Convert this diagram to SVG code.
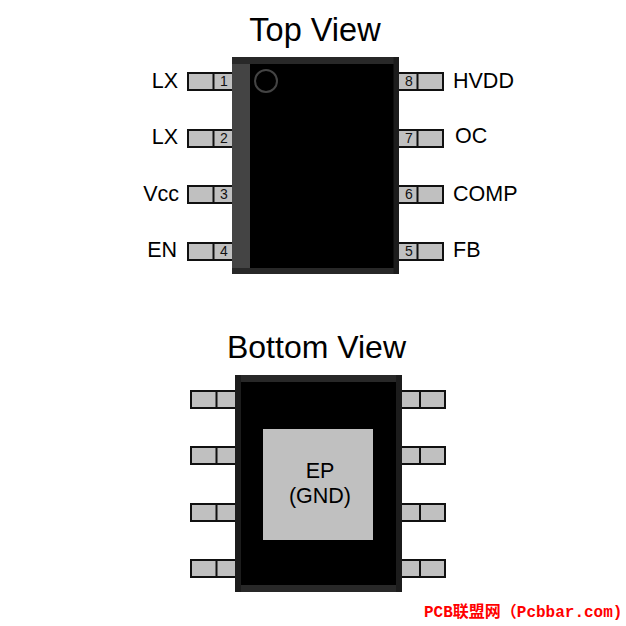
<svg xmlns="http://www.w3.org/2000/svg" width="626" height="626" viewBox="0 0 626 626">
<style>
.pin{fill:#c0c0c0;stroke:#111;stroke-width:2}
.band{fill:#282828}
.side{fill:#1c1c1c}
.t{font-family:"Liberation Sans",Arial,sans-serif;fill:#000}
.title{font-size:32.500px;text-anchor:middle}
.lbl{font-size:21.500px}
.end{text-anchor:end}
.n{font-family:"Liberation Sans",Arial,sans-serif;font-size:14px;fill:#111;text-anchor:middle}
</style>
<rect width="626" height="626" fill="#fff"/>
<text class="t title" x="315" y="41">Top View</text>
<text class="t title" x="316.500" y="358" style="font-size:32px">Bottom View</text>
<g id="top-package">
<rect x="232" y="57" width="167" height="217" fill="#000"/>
<rect class="band" x="232" y="57" width="167" height="7"/>
<rect class="band" x="232" y="268" width="167" height="6"/>
<rect class="side" x="393.500" y="57" width="5.500" height="217"/>
<rect x="232" y="64" width="18" height="204" fill="#444"/>
<circle cx="266" cy="81" r="11" fill="none" stroke="#444" stroke-width="2"/>
</g>
<g id="top-pin-1"><path class="pin" d="M232 73H188V90H232M213.500 73V90"/><text class="n" x="224" y="86">1</text><text class="t lbl end" x="178" y="88">LX</text></g>
<g id="top-pin-2"><path class="pin" d="M232 130H188V147H232M213.500 130V147"/><text class="n" x="224" y="143">2</text><text class="t lbl end" x="178" y="144">LX</text></g>
<g id="top-pin-3"><path class="pin" d="M232 186H188V203H232M213.500 186V203"/><text class="n" x="224" y="199">3</text><text class="t lbl end" x="179" y="201">Vcc</text></g>
<g id="top-pin-4"><path class="pin" d="M232 243H188V260H232M213.500 243V260"/><text class="n" x="224" y="256">4</text><text class="t lbl end" x="177" y="257">EN</text></g>
<g id="top-pin-8"><path class="pin" d="M399 73H443V90H399M417.500 73V90"/><text class="n" x="409" y="86">8</text><text class="t lbl" x="453" y="88">HVDD</text></g>
<g id="top-pin-7"><path class="pin" d="M399 130H443V147H399M417.500 130V147"/><text class="n" x="409" y="143">7</text><text class="t lbl" x="455" y="143">OC</text></g>
<g id="top-pin-6"><path class="pin" d="M399 186H443V203H399M417.500 186V203"/><text class="n" x="409" y="199">6</text><text class="t lbl" x="453" y="201">COMP</text></g>
<g id="top-pin-5"><path class="pin" d="M399 243H443V260H399M417.500 243V260"/><text class="n" x="409" y="256">5</text><text class="t lbl" x="453" y="257">FB</text></g>
<g id="bottom-package">
<rect x="235" y="375" width="167" height="217" fill="#000"/>
<rect class="band" x="235" y="375" width="167" height="7"/>
<rect class="band" x="235" y="585" width="167" height="7"/>
<rect class="side" x="235" y="375" width="6" height="217"/>
<rect class="side" x="396" y="375" width="6" height="217"/>
</g>
<g id="exposed-pad">
<rect x="263" y="429" width="110" height="111" fill="#c0c0c0"/>
<text class="t" x="320" y="478" font-size="21.500" text-anchor="middle">EP</text>
<text class="t" x="320" y="503" font-size="21.500" text-anchor="middle">(GND)</text>
</g>
<g id="bottom-pins">
<path class="pin" d="M235 391H191V408H235M216.500 391V408"/>
<path class="pin" d="M235 447H191V464H235M216.500 447V464"/>
<path class="pin" d="M235 504H191V521H235M216.500 504V521"/>
<path class="pin" d="M235 560H191V577H235M216.500 560V577"/>
<path class="pin" d="M402 391H445V408H402M420 391V408"/>
<path class="pin" d="M402 447H445V464H402M420 447V464"/>
<path class="pin" d="M402 504H445V521H402M420 504V521"/>
<path class="pin" d="M402 560H445V577H402M420 560V577"/>
</g>
<text x="424" y="617" font-family="'Liberation Mono','Noto Sans CJK SC',monospace" font-size="16" font-weight="700" fill="#f00">PCB联盟网（Pcbbar.com)</text>
</svg>
